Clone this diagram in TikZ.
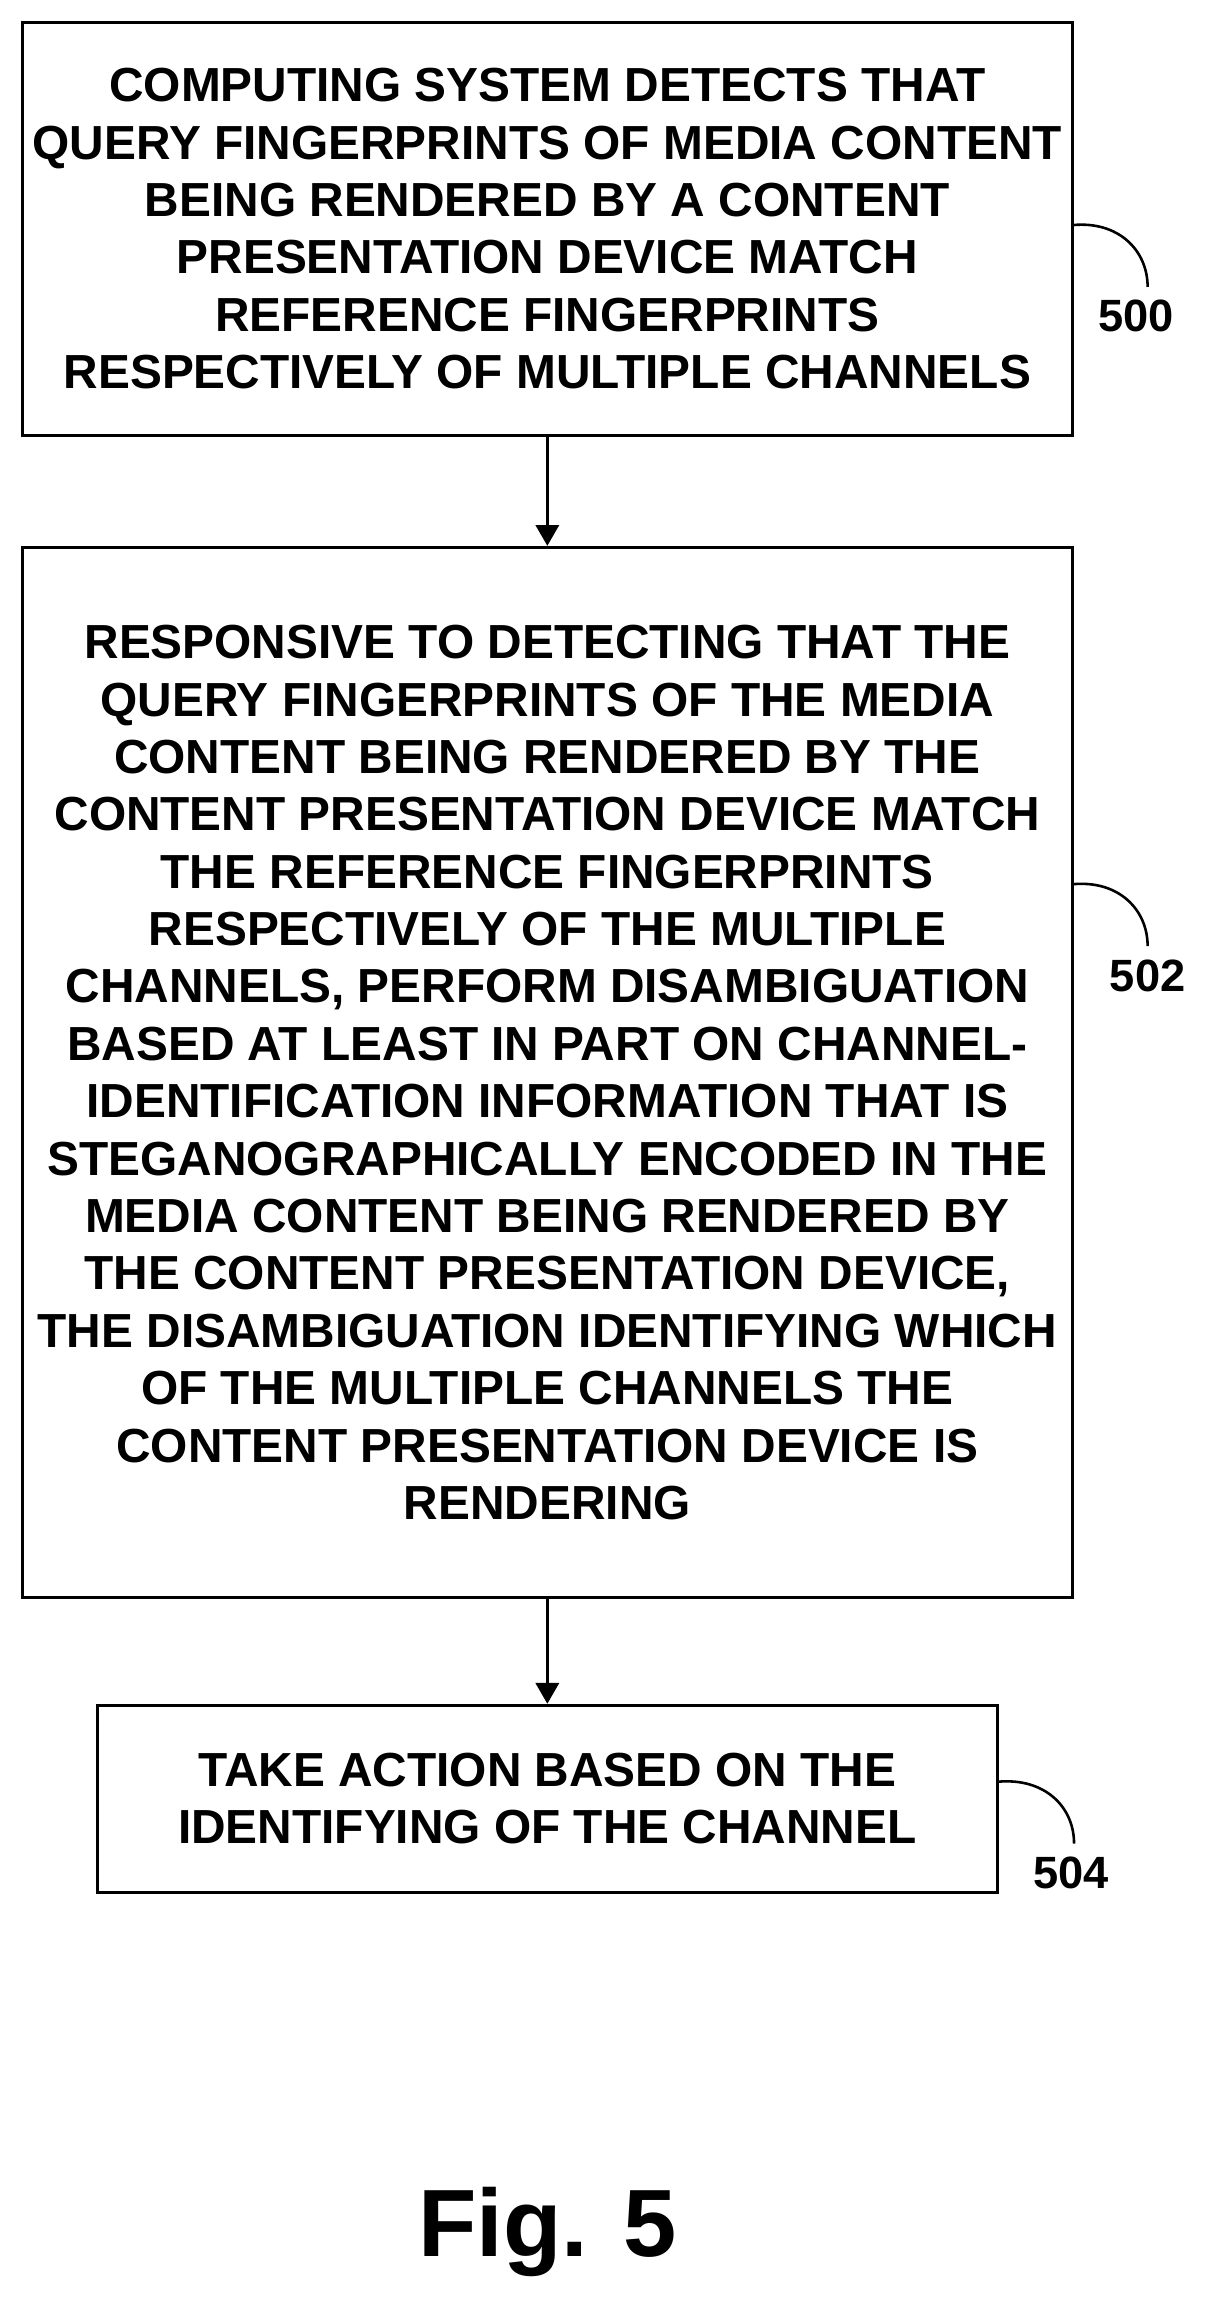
\documentclass[tikz,border=0pt]{standalone}
\usepackage{fontspec}
\setmainfont{Liberation Sans}
\usetikzlibrary{positioning,arrows}

\tikzset{
  stepbox/.style={draw,line width=1.2pt,align=center,inner sep=0pt,
    font=\fontsize{18.5}{22.2}\selectfont\bfseries},
  flow/.style={-triangle 60,line width=1.2pt},
  refnum/.style={font=\fontsize{17.5}{20}\selectfont\bfseries}
}

\begin{document}
\begin{tikzpicture}[x=0.02cm,y=-0.02cm]
        \useasboundingbox (0,0) rectangle (822,1568);

        % the three steps
        \node[stepbox,minimum width=714*0.02cm,minimum height=281*0.02cm] (detect) at (372,155.5)
          {COMPUTING SYSTEM DETECTS THAT\\QUERY FINGERPRINTS OF MEDIA CONTENT\\BEING RENDERED BY A CONTENT\\PRESENTATION DEVICE MATCH\\REFERENCE FINGERPRINTS\\RESPECTIVELY OF MULTIPLE CHANNELS};
        \node[stepbox,minimum width=714*0.02cm,minimum height=714*0.02cm] (disamb) at (372,729)
          {RESPONSIVE TO DETECTING THAT THE\\QUERY FINGERPRINTS OF THE MEDIA\\CONTENT BEING RENDERED BY THE\\CONTENT PRESENTATION DEVICE MATCH\\THE REFERENCE FINGERPRINTS\\RESPECTIVELY OF THE MULTIPLE\\CHANNELS, PERFORM DISAMBIGUATION\\BASED AT LEAST IN PART ON CHANNEL-\\IDENTIFICATION INFORMATION THAT IS\\STEGANOGRAPHICALLY ENCODED IN THE\\MEDIA CONTENT BEING RENDERED BY\\THE CONTENT PRESENTATION DEVICE,\\THE DISAMBIGUATION IDENTIFYING WHICH\\OF THE MULTIPLE CHANNELS THE\\CONTENT PRESENTATION DEVICE IS\\RENDERING};
        \node[stepbox,minimum width=612*0.02cm,minimum height=127*0.02cm] (action) at (372,1222.5)
          {TAKE ACTION BASED ON THE\\IDENTIFYING OF THE CHANNEL};

        \draw[flow] (detect) -- (disamb);
        \draw[flow] (disamb) -- (action);

        % reference numerals
        \node[refnum] (n500) at (772,215) {500};
        \node[refnum] (n502) at (780,663) {502};
        \node[refnum] (n504) at (728,1273) {504};
        \draw[line width=1pt] (729,153) .. controls (760,150) and (780,170) .. (780,195);
        \draw[line width=1pt] (729,601) .. controls (760,598) and (780,618) .. (780,643);
        \draw[line width=1pt] (678,1211) .. controls (710,1208) and (730,1228) .. (730,1253);

        \node[font=\fontsize{37}{44}\selectfont\bfseries] (fig) at (372,1517) {Fig. 5};
\end{tikzpicture}
\end{document}
